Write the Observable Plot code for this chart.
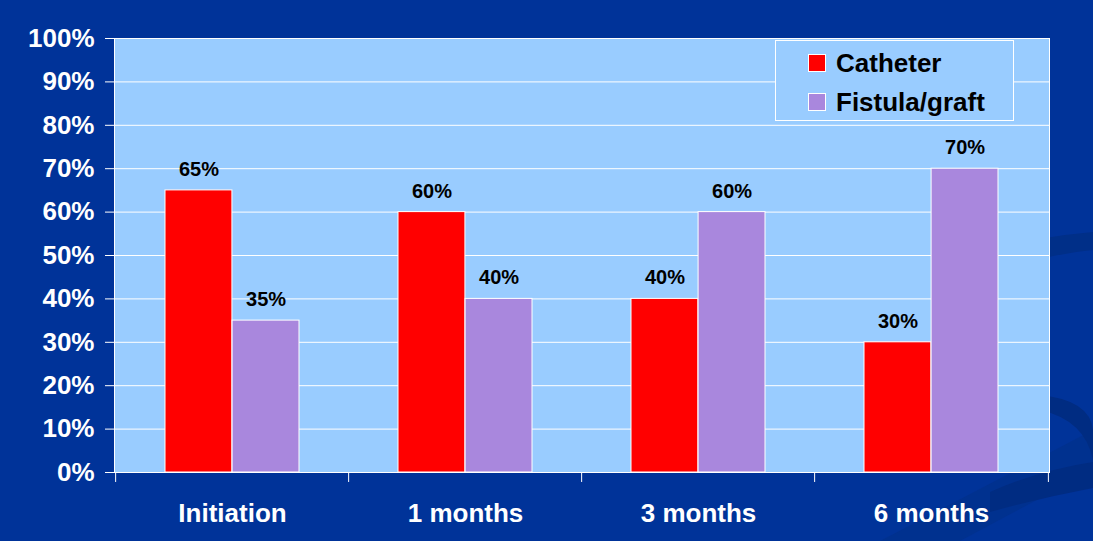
<!DOCTYPE html>
<html>
<head>
<meta charset="utf-8">
<script src="https://cdn.jsdelivr.net/npm/d3@7"></script>
<script src="https://cdn.jsdelivr.net/npm/@observablehq/plot@0.6"></script>
<style>
  html, body { margin: 0; padding: 0; }
  body {
    width: 1093px; height: 541px; overflow: hidden;
    background: #003399;
    font-family: "Liberation Sans", Arial, sans-serif;
  }
  #wrap { position: relative; width: 1093px; height: 541px; }
  #deco { position: absolute; left: 0; top: 0; width: 1093px; height: 541px; pointer-events: none; }
  #chart { position: absolute; left: 0; top: 0; }
  #legend {
    position: absolute; left: 775px; top: 40px; width: 237px; height: 79px;
    border: 1px solid white; background: #99ccff; box-sizing: content-box;
    font-weight: bold; font-size: 26px; color: black;
  }
  .item { position: absolute; left: 32px; display: flex; align-items: center; height: 30px; }
  .sw { width: 16px; height: 16px; border: 1px solid white; margin-right: 10px; }
</style>
</head>
<body>
<div id="wrap">
  <svg id="deco" width="1093" height="541">
    <path d="M 880 541 L 1093 430 L 1093 470 L 960 541 Z" fill="#00318f"/>
    <path d="M 990 492 Q 1040 470 1093 462 L 1093 488 Q 1040 498 990 512 Z" fill="#002c82"/>
    <path d="M 1040 395 Q 1090 400 1093 430 L 1093 460 Q 1085 420 1040 410 Z" fill="#002c82"/>
    <path d="M 1045 238 Q 1070 234 1093 232 L 1093 250 Q 1070 252 1045 258 Z" fill="#002f88"/>
  </svg>
  <div id="chart"></div>
  <div id="legend"></div>
</div>
<script>
const categories = ["Initiation", "1 months", "3 months", "6 months"];
const seriesNames = ["Catheter", "Fistula/graft"];
const catheter = [65, 60, 40, 30];
const fistula = [35, 40, 60, 70];
const yTicks = [0, 10, 20, 30, 40, 50, 60, 70, 80, 90, 100];
const colors = ["#ff0000", "#a987dd"];

const rows = categories.map((c, i) => ({cat: c, catheter: catheter[i], fistula: fistula[i]}));

const W = 1093, H = 541, mL = 114, mR = 44, mT = 38, mB = 69;
const pInner = 0.426, pOuter = pInner / 2;
const step = (W - mL - mR) / (categories.length - pInner + 2 * pOuter);
const bw = step * (1 - pInner);

const chart = Plot.plot({
  width: W, height: H,
  marginLeft: mL, marginRight: mR, marginTop: mT, marginBottom: mB,
  style: {background: "transparent", fontFamily: "'Liberation Sans', Arial, sans-serif", fontWeight: "bold", overflow: "visible"},
  x: {domain: categories, paddingInner: pInner, paddingOuter: pOuter, axis: null},
  y: {domain: [0, 100], axis: null},
  marks: [
    Plot.frame({fill: "#99ccff"}),
    Plot.gridY(yTicks, {stroke: "white", strokeOpacity: 1, strokeWidth: 1}),
    Plot.barY(rows, {x: "cat", y: "catheter", fill: colors[0], stroke: "white", strokeWidth: 1, insetRight: bw / 2}),
    Plot.barY(rows, {x: "cat", y: "fistula", fill: colors[1], stroke: "white", strokeWidth: 1, insetLeft: bw / 2}),
    Plot.text(rows, {x: "cat", y: "catheter", text: d => d.catheter + "%", dx: -bw / 4, dy: -21, fill: "black", fontSize: 20, fontWeight: "bold"}),
    Plot.text(rows, {x: "cat", y: "fistula", text: d => d.fistula + "%", dx: bw / 4, dy: -21, fill: "black", fontSize: 20, fontWeight: "bold"}),
    Plot.frame({stroke: "white", strokeWidth: 1}),
    Plot.axisY(yTicks, {tickSize: 9, tickPadding: 11, tickFormat: d => d + "%", fontSize: 26, fill: "white", stroke: "white", fontWeight: "bold", label: null}),
    Plot.axisX({tickSize: 0, tickPadding: 31, fontSize: 26, fill: "white", fontWeight: "bold", label: null}),
    Plot.ruleX(categories, {x: d => d, dx: -step / 2, y1: 0, y2: -2.3, stroke: "white", strokeWidth: 1}),
    Plot.ruleX(categories.slice(-1), {x: d => d, dx: step / 2, y1: 0, y2: -2.3, stroke: "white", strokeWidth: 1})
  ]
});
document.getElementById("chart").appendChild(chart);

const legend = document.getElementById("legend");
seriesNames.forEach((name, i) => {
  const item = document.createElement("div");
  item.className = "item";
  item.style.top = (7 + i * 39) + "px";
  const sw = document.createElement("div");
  sw.className = "sw";
  sw.style.background = colors[i];
  const label = document.createElement("span");
  label.textContent = name;
  item.appendChild(sw);
  item.appendChild(label);
  legend.appendChild(item);
});
</script>
</body>
</html>
